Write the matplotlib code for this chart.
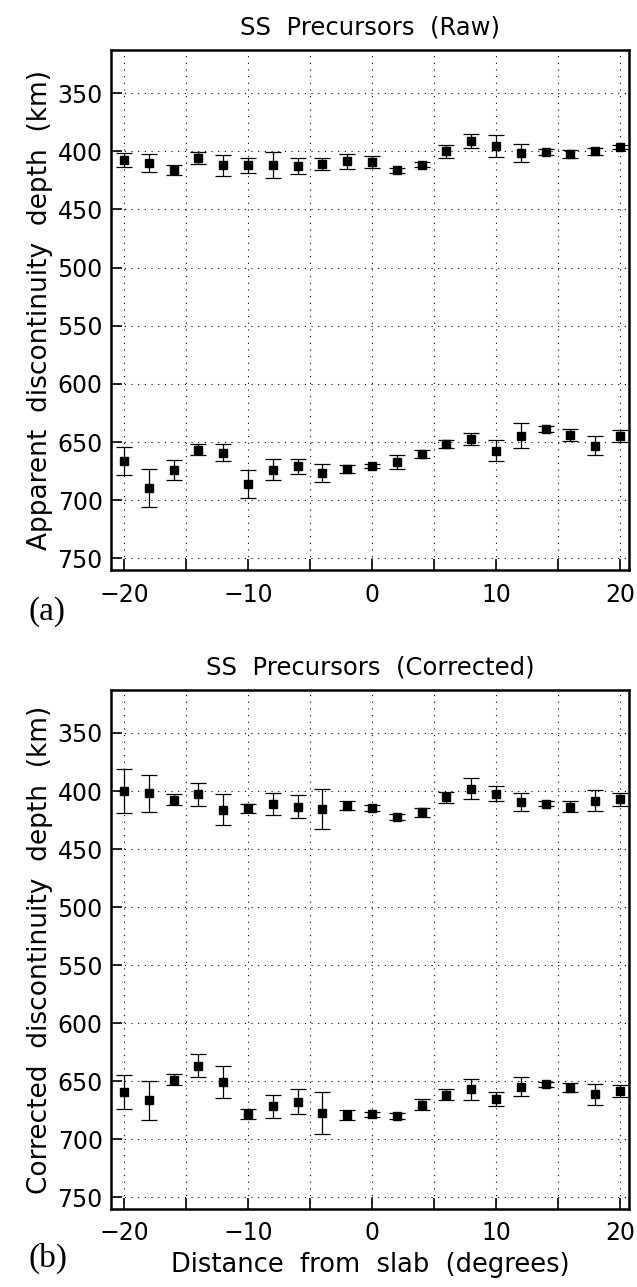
import matplotlib
matplotlib.use("Agg")
import matplotlib.pyplot as plt
from matplotlib.ticker import MultipleLocator
import numpy as np

# ---- data ----
distance = [-20, -18, -16, -14, -12, -10, -8, -6, -4, -2, 0, 2, 4, 6, 8, 10, 12, 14, 16, 18, 20]

raw_410 = [407.5, 410, 416, 406, 412, 412, 412, 413, 411, 408.5, 409.5, 416.5, 411.5, 400, 391.5, 395.5, 401.5, 401, 402.5, 400, 396.5]
raw_410_err = [6, 7.5, 4.5, 5, 9, 6.5, 11, 7, 5, 6.5, 5, 2, 2.5, 5.5, 6, 9.5, 7.5, 2.5, 3.5, 3, 2]
raw_660 = [666, 689.5, 674, 656.5, 659, 686, 674, 671, 676.5, 673.5, 670.5, 667, 660, 652, 647.5, 657.5, 644.5, 638.5, 644, 653, 645]
raw_660_err = [12, 16, 8.5, 5, 7, 12, 9, 6.5, 8, 3.5, 2, 6, 3.5, 3.5, 5, 9, 10.5, 2.5, 5.5, 8, 5]

cor_410 = [400, 402, 407.5, 403, 416, 415, 411.5, 413.5, 415.5, 412.5, 414.5, 422.5, 418.5, 405.5, 398, 402.5, 409.5, 411, 413.5, 408.5, 407]
cor_410_err = [19, 16, 4.5, 10, 13, 4, 9.5, 10, 17.5, 3.5, 2.5, 2.5, 4, 5, 9, 6.5, 8, 2.2, 4.5, 9, 5.5]
cor_660 = [659, 666.5, 648.5, 636.5, 650.5, 678, 671.5, 667.5, 677, 679, 678.5, 680, 670, 661.5, 657, 665.5, 654.5, 652.5, 655.5, 661, 658.5]
cor_660_err = [14.5, 16.5, 4.5, 10, 13.5, 4.5, 10, 10.5, 18, 4, 2, 2.5, 4.5, 4.5, 9, 6, 8, 2, 4, 9, 5]

titles = ["SS  Precursors  (Raw)", "SS  Precursors  (Corrected)"]
ylabels = ["Apparent  discontinuity  depth  (km)", "Corrected  discontinuity  depth  (km)"]
panel_tags = ["(a)", "(b)"]
xlabel = "Distance  from  slab  (degrees)"

W, H = 637, 1287
fig = plt.figure(figsize=(W / 100, H / 100), dpi=100)
plt.rcParams['font.family'] = ['DejaVu Sans']

left = 111 / W
width = (629 - 111) / W
ax_top = fig.add_axes([left, 1 - 570 / H, width, (570 - 50) / H])
ax_bot = fig.add_axes([left, 1 - 1209 / H, width, (1209 - 690) / H])

sets = [
    (ax_top, raw_410, raw_410_err, raw_660, raw_660_err),
    (ax_bot, cor_410, cor_410_err, cor_660, cor_660_err),
]

dots = (0, (1, 5))
for i, (ax, d1, e1, d2, e2) in enumerate(sets):
    for d, e in ((d1, e1), (d2, e2)):
        ax.errorbar(distance, d, yerr=e, fmt='s', color='black', ms=6.3,
                    ecolor='black', elinewidth=0.9, capsize=6, capthick=0.9, zorder=3)
    ax.set_xlim(-21.05, 20.73)
    ax.set_ylim(760, 313)
    ax.xaxis.set_major_locator(MultipleLocator(10))
    ax.xaxis.set_minor_locator(MultipleLocator(5))
    ax.yaxis.set_major_locator(MultipleLocator(50))
    ax.grid(which='both', axis='x', linestyle=dots, color='black', linewidth=0.8)
    ax.grid(which='major', axis='y', linestyle=dots, color='black', linewidth=0.8)
    ax.tick_params(axis='both', which='both', direction='in', length=8, width=1.2,
                   top=False, right=False, labelsize=17)
    ax.tick_params(axis='x', pad=9)
    ax.tick_params(axis='y', pad=6)
    for sp in ax.spines.values():
        sp.set_linewidth(1.8)
    ax.set_title(titles[i], fontsize=17.5, pad=11)
    ax.set_ylabel(ylabels[i], fontsize=19, labelpad=3)

ax_bot.set_xlabel(xlabel, fontsize=18.5, labelpad=5)

fig.text(28 / W, 1 - 612 / H, panel_tags[0], family='Liberation Serif', fontsize=24, va='center')
fig.text(28 / W, 1 - 1258 / H, panel_tags[1], family='Liberation Serif', fontsize=24, va='center')

fig.savefig("out.png", dpi=100)
